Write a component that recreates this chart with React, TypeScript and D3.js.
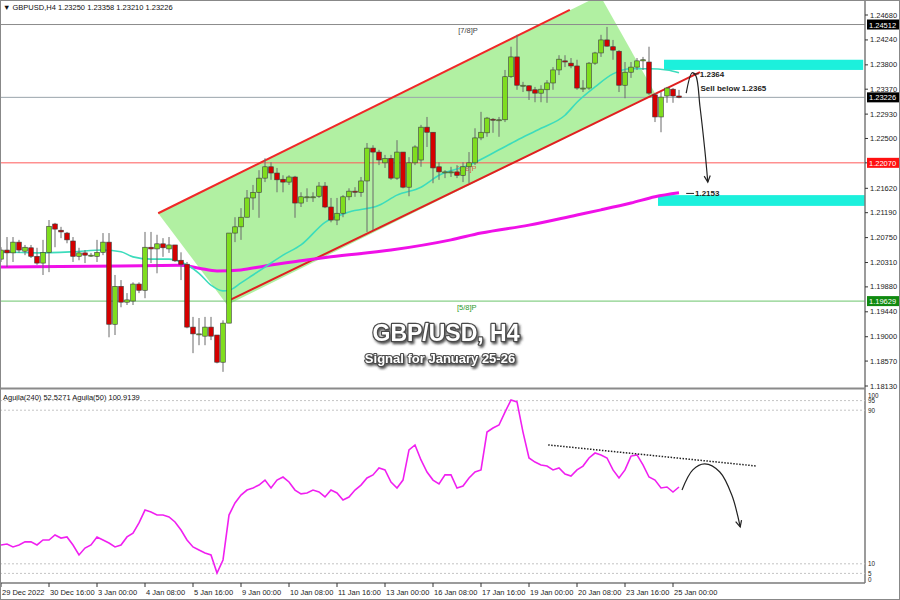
import * as d3 from "d3";

// H4 candles, 29 Dec 2022 -> 25 Jan 2023 04:00
const opens = [
  1.2037, 1.2053, 1.2048, 1.2067, 1.2051, 1.2057, 1.2042, 1.2030, 1.2049, 1.2099,
  1.2088, 1.2083, 1.2069, 1.2042, 1.2048, 1.2044, 1.2042, 1.2049, 1.2067, 1.1922,
  1.1989, 1.1961, 1.1963, 1.1993, 1.1982, 1.2058, 1.2055, 1.2064, 1.2055, 1.2062,
  1.2035, 1.2028, 1.1917, 1.1905, 1.1901, 1.1917, 1.1903, 1.1855, 1.1924, 1.2083,
  1.2094, 1.2111, 1.2145, 1.2155, 1.2180, 1.2200, 1.2189, 1.2178, 1.2173, 1.2182,
  1.2136, 1.2147, 1.2147, 1.2148, 1.2166, 1.2129, 1.2106, 1.2118, 1.2147, 1.2157,
  1.2155, 1.2175, 1.2233, 1.2226, 1.2207, 1.2215, 1.2180, 1.2226, 1.2164, 1.2207,
  1.2212, 1.2270, 1.2261, 1.2200, 1.2191, 1.2191, 1.2191, 1.2185, 1.2200, 1.2207,
  1.2251, 1.2260, 1.2284, 1.2283, 1.2283, 1.2359, 1.2394, 1.2344, 1.2343, 1.2336,
  1.2330, 1.2336, 1.2348, 1.2371, 1.2387, 1.2383, 1.2378, 1.2339, 1.2339, 1.2383,
  1.2401, 1.2424, 1.2412, 1.2404, 1.2344, 1.2367, 1.2376, 1.2387, 1.2385, 1.2327,
  1.2288, 1.2325, 1.2337, 1.2325,
];
const highs = [
  1.2058, 1.2076, 1.2076, 1.2071, 1.2062, 1.2062, 1.2057, 1.2071, 1.2106, 1.2101,
  1.2094, 1.2085, 1.2076, 1.2057, 1.2053, 1.2048, 1.2071, 1.2083, 1.2083, 1.2009,
  1.2000, 1.1977, 1.1996, 1.1996, 1.2085, 1.2085, 1.2080, 1.2074, 1.2076, 1.2062,
  1.2049, 1.2032, 1.1935, 1.1933, 1.1935, 1.1935, 1.1903, 1.1929, 1.2083, 1.2111,
  1.2127, 1.2159, 1.2168, 1.2194, 1.2215, 1.2208, 1.2198, 1.2185, 1.2185, 1.2184,
  1.2155, 1.2162, 1.2155, 1.2173, 1.2173, 1.2145, 1.2145, 1.2150, 1.2162, 1.2164,
  1.2182, 1.2242, 1.2238, 1.2230, 1.2221, 1.2221, 1.2247, 1.2226, 1.2217, 1.2238,
  1.2274, 1.2288, 1.2261, 1.2208, 1.2194, 1.2200, 1.2203, 1.2208, 1.2226, 1.2268,
  1.2297, 1.2288, 1.2286, 1.2288, 1.2371, 1.2412, 1.2433, 1.2350, 1.2344, 1.2341,
  1.2344, 1.2353, 1.2376, 1.2397, 1.2397, 1.2392, 1.2389, 1.2353, 1.2385, 1.2403,
  1.2433, 1.2447, 1.2424, 1.2406, 1.2385, 1.2385, 1.2392, 1.2394, 1.2412, 1.2330,
  1.2332, 1.2341, 1.2339, 1.23358,
];
const lows = [
  1.2032, 1.2023, 1.2032, 1.2048, 1.2044, 1.2039, 1.2027, 1.2009, 1.2014, 1.2058,
  1.2074, 1.2065, 1.2032, 1.2035, 1.2030, 1.2041, 1.2032, 1.2044, 1.1899, 1.1903,
  1.1952, 1.1956, 1.1956, 1.1977, 1.1968, 1.2030, 1.2012, 1.2041, 1.2048, 1.2032,
  1.2000, 1.1915, 1.1871, 1.1885, 1.1885, 1.1894, 1.1853, 1.1838, 1.1924, 1.2067,
  1.2071, 1.2111, 1.2124, 1.2110, 1.2173, 1.2177, 1.2155, 1.2155, 1.2168, 1.2110,
  1.2129, 1.2138, 1.2138, 1.2145, 1.2127, 1.2102, 1.2097, 1.2111, 1.2141, 1.2147,
  1.2147, 1.2085, 1.2088, 1.2203, 1.2198, 1.2177, 1.2177, 1.2162, 1.2148, 1.2203,
  1.2200, 1.2235, 1.2171, 1.2177, 1.2180, 1.2182, 1.2180, 1.2173, 1.2171, 1.2203,
  1.2247, 1.2253, 1.2260, 1.2253, 1.2279, 1.2357, 1.2336, 1.2332, 1.2318, 1.2314,
  1.2314, 1.2313, 1.2336, 1.2362, 1.2376, 1.2374, 1.2336, 1.2332, 1.2336, 1.2380,
  1.2394, 1.2412, 1.2389, 1.2332, 1.2321, 1.2357, 1.2371, 1.2371, 1.2327, 1.2279,
  1.2261, 1.2313, 1.2313, 1.23210,
];
const closes = [
  1.2053, 1.2048, 1.2067, 1.2053, 1.2058, 1.2042, 1.2030, 1.2049, 1.2095, 1.2090,
  1.2085, 1.2071, 1.2042, 1.2048, 1.2044, 1.2044, 1.2049, 1.2067, 1.1922, 1.1989,
  1.1961, 1.1965, 1.1993, 1.1982, 1.2058, 1.2055, 1.2064, 1.2057, 1.2062, 1.2034,
  1.2028, 1.1917, 1.1905, 1.1905, 1.1917, 1.1901, 1.1855, 1.1924, 1.2083, 1.2094,
  1.2111, 1.2145, 1.2155, 1.2180, 1.2200, 1.2189, 1.2177, 1.2173, 1.2182, 1.2136,
  1.2147, 1.2147, 1.2147, 1.2166, 1.2129, 1.2106, 1.2118, 1.2147, 1.2157, 1.2155,
  1.2175, 1.2233, 1.2226, 1.2212, 1.2215, 1.2180, 1.2226, 1.2164, 1.2207, 1.2235,
  1.2270, 1.2261, 1.2198, 1.2191, 1.2191, 1.2191, 1.2185, 1.2200, 1.2207, 1.2251,
  1.2261, 1.2286, 1.2283, 1.2283, 1.2359, 1.2394, 1.2344, 1.2344, 1.2334, 1.2330,
  1.2337, 1.2348, 1.2371, 1.2390, 1.2385, 1.2378, 1.2339, 1.2339, 1.2383, 1.2401,
  1.2424, 1.2413, 1.2406, 1.2344, 1.2367, 1.2376, 1.2387, 1.2389, 1.2330, 1.2288,
  1.2323, 1.2339, 1.2325, 1.23226,
];

// moving averages (bar index, price)
const maFastBars = [0, 6, 12, 17, 20, 22, 25, 28, 30, 33, 35, 37, 38, 40, 42, 44, 47, 50, 54, 58, 63, 66, 70, 73, 78, 83, 86, 90, 94, 96, 99, 102, 105, 108, 111, 113];
const maFastVals = [1.2050, 1.2048, 1.2050, 1.2053, 1.2050, 1.2041, 1.2037, 1.2037, 1.2032, 1.2012, 1.1991, 1.1981, 1.1982, 1.1995, 1.2009, 1.2023, 1.2044, 1.2062, 1.2102, 1.2120, 1.2132, 1.2150, 1.2164, 1.2185, 1.2203, 1.2230, 1.2247, 1.2268, 1.2291, 1.2314, 1.2341, 1.2364, 1.2373, 1.2373, 1.2371, 1.2366];
const maSlowBars = [0, 10, 20, 30, 33, 36, 40, 44, 50, 55, 65, 75, 80, 88, 96, 100, 105, 109, 113];
const maSlowVals = [1.2023, 1.2024, 1.2025, 1.2026, 1.2021, 1.2016, 1.2018, 1.2025, 1.2034, 1.2041, 1.2053, 1.2071, 1.2083, 1.2097, 1.2115, 1.2124, 1.2136, 1.2147, 1.2154];

// Aguila(50) oscillator, one value per bar
const aguila = [
  19.8, 20.3, 18.8, 19.8, 21.4, 21.4, 19.8, 22.4, 22.4, 25.0,
  23.4, 24.0, 19.8, 14.6, 18.2, 19.8, 24.0, 22.4, 20.8, 18.8,
  19.8, 24.0, 26.0, 31.3, 38.0, 37.0, 35.4, 35.4, 34.4, 31.8,
  27.6, 22.4, 18.8, 17.2, 15.6, 14.6, 5.2, 12.0, 35.4, 41.7,
  45.8, 48.4, 49.5, 51.0, 53.6, 49.5, 53.6, 55.2, 52.6, 48.4,
  46.4, 46.9, 48.4, 47.4, 44.8, 48.4, 46.9, 43.2, 44.8, 48.4,
  51.0, 54.7, 56.3, 59.9, 58.9, 52.6, 49.5, 53.6, 69.3, 71.9,
  64.1, 57.8, 53.6, 51.6, 56.3, 56.3, 49.5, 50.5, 54.7, 57.8,
  58.9, 78.6, 80.7, 82.3, 89.0, 95.3, 94.3, 78.6, 65.1, 63.0,
  61.5, 60.9, 58.9, 59.9, 56.8, 55.7, 58.9, 60.9, 65.1, 67.7,
  66.7, 65.1, 58.9, 54.7, 58.9, 66.1, 66.7, 61.5, 55.2, 53.6,
  49.5, 50.0, 47.4, 50.0,
];

const timeLabels = ["29 Dec 2022", "30 Dec 16:00", "3 Jan 00:00", "4 Jan 08:00", "5 Jan 16:00", "9 Jan 00:00", "10 Jan 08:00", "11 Jan 16:00", "13 Jan 00:00", "16 Jan 08:00", "17 Jan 16:00", "19 Jan 00:00", "20 Jan 08:00", "23 Jan 16:00", "25 Jan 00:00"];
const priceTicks = [1.2468, 1.2424, 1.238, 1.2337, 1.2293, 1.225, 1.2207, 1.2162, 1.2119, 1.2075, 1.2031, 1.1988, 1.1944, 1.19, 1.1857, 1.1813];
const levelPrices = [1.24512, 1.23226, 1.2207, 1.19629];
const aguilaLevels = [95, 90, 10, 5];
const aguilaLabels = [100, 95, 90, 10, 5, 0];

// channel drawn on the chart (bar, price)
const channelUpper = [[26.2, 1.2118], [94.8, 1.2477]];
const channelLower = [[38.2, 1.1965], [116.5, 1.2367]];
const channelFill = [[26.2, 1.2118], [98.2, 1.2494], [100.3, 1.2494], [109, 1.233], [37.7, 1.1956]];
const zoneSell = [110.5, 143.7, 1.2371, 1.2389];
const zoneTarget = [109.5, 144.3, 1.2131, 1.215];
const arrowMain = [[114.2, 1.233], [115.2, 1.2366], [115.8, 1.2361], [116.5, 1.2306], [117.3, 1.223], [117.8, 1.2173]];
const oscTrend = [[91.2, 71.9], [126, 60.9]];
const oscArrow = [[113.5, 48.4], [115.3, 58.9], [117.3, 62], [119.8, 57.8], [121.8, 45.8], [123.2, 29.2]];

const FONT = "'Liberation Sans', Arial, sans-serif";
const UP = "#7fdd1e";
const DOWN = "#d40000";

export default function App() {
  const W = 900, H = 600;
  const axisX = 865;
  const x = d3.scaleLinear().domain([0, 144]).range([1, 865]);
  const y = d3.scaleLinear().domain([1.1813, 1.2468]).range([386, 15]);
  const yo = d3.scaleLinear().domain([0, 100]).range([583, 391]);

  const priceLine = d3.line<number[]>().x((d) => x(d[0])).y((d) => y(d[1]));
  const oscLine = d3.line<number[]>().x((d) => x(d[0])).y((d) => yo(d[1]));
  const smooth = d3.line<number[]>().x((d) => x(d[0])).y((d) => y(d[1])).curve(d3.curveMonotoneX);
  const arrowCurve = d3.line<number[]>().x((d) => x(d[0])).y((d) => y(d[1])).curve(d3.curveCatmullRom);
  const oscArrowCurve = d3.line<number[]>().x((d) => x(d[0])).y((d) => yo(d[1])).curve(d3.curveCatmullRom);

  const fastPts = maFastBars.map((b, i) => [b, maFastVals[i]]);
  const slowPts = maSlowBars.map((b, i) => [b, maSlowVals[i]]);
  const oscPts = aguila.map((v, i) => [i, v]);

  const levelStyle = [
    { line: "#8c8c8c", bg: "#000", fg: "#fff" },
    { line: "#9aa4ac", bg: "#000", fg: "#fff" },
    { line: "#ff5a5a", bg: "#ff1010", fg: "#fff" },
    { line: "#6cc46c", bg: "#108a10", fg: "#fff" },
  ];

  const arrowHead = (pts: number[][], sy: (v: number) => number) => {
    const a = pts[pts.length - 2], b = pts[pts.length - 1];
    const x1 = x(a[0]), y1 = sy(a[1]), x2 = x(b[0]), y2 = sy(b[1]);
    const ang = Math.atan2(y2 - y1, x2 - x1);
    const L = 7, s = 0.45;
    return `M${x2 - L * Math.cos(ang - s)},${y2 - L * Math.sin(ang - s)}L${x2},${y2}L${x2 - L * Math.cos(ang + s)},${y2 - L * Math.sin(ang + s)}`;
  };

  // keep the 100/0 labels inside the panel like MT4 does
  const oscLabelY = (v: number) => (v === 100 ? 397.5 : v === 0 ? 582 : v === 5 ? 575.5 : yo(v) + 2.5);

  return (
    <svg width={W} height={H} style={{ position: "absolute", left: 0, top: 0, background: "#fff" }} fontFamily={FONT}>
      <defs>
        <clipPath id="main">
          <rect x={0} y={0} width={axisX} height={387} />
        </clipPath>
        <clipPath id="osc">
          <rect x={0} y={390} width={axisX} height={193} />
        </clipPath>
        <filter id="shadow" x="-10%" y="-30%" width="130%" height="170%">
          <feDropShadow dx="1.5" dy="2" stdDeviation="1" floodColor="#333" floodOpacity="0.8" />
        </filter>
      </defs>

      <g clipPath="url(#main)">
        <path d={priceLine(channelFill) + "Z"} fill="#a9ee98" opacity={0.9} />
        {levelPrices.map((p, i) => (
          <line key={p} x1={0} x2={axisX} y1={y(p)} y2={y(p)} stroke={levelStyle[i].line} strokeWidth={1} />
        ))}
        <text x={x(76.2)} y={y(1.2468) + 18} fontSize={7.5} fill="#444">[7/8]P</text>
        <text x={x(76)} y={y(1.2207) + 8} fontSize={7.5} fill="#e04040" opacity={0.8}>[6/8]P</text>
        <text x={x(76)} y={y(1.19629) + 9} fontSize={7.5} fill="#2a9a2a">[5/8]P</text>
        <rect x={x(zoneSell[0])} width={x(zoneSell[1]) - x(zoneSell[0])} y={y(zoneSell[3])} height={y(zoneSell[2]) - y(zoneSell[3])} fill="#1cf0dc" />
        <rect x={x(zoneTarget[0])} width={x(zoneTarget[1]) - x(zoneTarget[0])} y={y(zoneTarget[3])} height={y(zoneTarget[2]) - y(zoneTarget[3])} fill="#1cf0dc" />
        <path d={priceLine(channelUpper) ?? ""} stroke="#f02828" strokeWidth={2} fill="none" />
        <path d={priceLine(channelLower) ?? ""} stroke="#e02020" strokeWidth={2} fill="none" />
        <path d={smooth(slowPts) ?? ""} stroke="#f010e8" strokeWidth={3} fill="none" />
        <path d={smooth(fastPts) ?? ""} stroke="#3cdcbc" strokeWidth={1.6} fill="none" />

        {closes.map((c, i) => {
          const o = opens[i];
          const up = c >= o;
          const cx = x(i);
          const top = y(Math.max(o, c));
          const h = Math.max(1, y(Math.min(o, c)) - top);
          return (
            <g key={i}>
              <line x1={cx} x2={cx} y1={y(highs[i])} y2={y(lows[i])} stroke="#6a6a6a" strokeWidth={1} />
              <rect x={cx - 2.3} width={4.6} y={top} height={h} fill={up ? UP : DOWN} stroke="#3a3a3a" strokeWidth={0.6} />
            </g>
          );
        })}

        <path d={arrowCurve(arrowMain) ?? ""} stroke="#222" strokeWidth={1.2} fill="none" />
        <path d={arrowHead(arrowMain, y)} stroke="#222" strokeWidth={1.2} fill="none" />
        <line x1={x(115.3)} x2={x(116.3)} y1={y(1.2364)} y2={y(1.2364)} stroke="#222" />
        <text x={x(116.3) + 1} y={y(1.2364) + 3} fontSize={8} fontWeight="bold" fill="#222">1.2364</text>
        <text x={x(116.5) + 0.5} y={y(1.2364) + 17} fontSize={8} fontWeight="bold" fill="#222">Sell below 1.2365</text>
        <line x1={x(114.2)} x2={x(115.5)} y1={y(1.2153)} y2={y(1.2153)} stroke="#222" />
        <text x={x(115.5) + 1} y={y(1.2153) + 3} fontSize={8} fontWeight="bold" fill="#222">1.2153</text>

        <g filter="url(#shadow)" textAnchor="middle" fontWeight="bold" fill="#fff" stroke="#4a4a4a" strokeLinejoin="round" style={{ paintOrder: "stroke" }}>
          <text x={446} y={341} fontSize={23} strokeWidth={2.4}>GBP/USD, H4</text>
          <text x={440} y={363} fontSize={13} strokeWidth={2.2}>Signal for January 25-26</text>
        </g>
      </g>

      {/* header */}
      <text x={3} y={10} fontSize={7.5} fill="#111">▼ GBPUSD,H4  1.23250 1.23358 1.23210 1.23226</text>

      {/* price axis */}
      <line x1={axisX} x2={axisX} y1={0} y2={583} stroke="#7a7a7a" strokeWidth={1.5} />
      {priceTicks.map((p) => (
        <g key={p}>
          <line x1={axisX} x2={axisX + 3} y1={y(p)} y2={y(p)} stroke="#333" />
          <text x={axisX + 5} y={y(p) + 2.5} fontSize={7.5} fill="#222">{p.toFixed(5)}</text>
        </g>
      ))}
      {levelPrices.map((p, i) => (
        <g key={"lb" + p}>
          <rect x={axisX + 2} y={y(p) - 5} width={33} height={10} fill={levelStyle[i].bg} />
          <text x={axisX + 4} y={y(p) + 3} fontSize={7.5} fill={levelStyle[i].fg}>{p.toFixed(5)}</text>
        </g>
      ))}

      {/* separator */}
      <line x1={0} x2={axisX} y1={388.5} y2={388.5} stroke="#8a8a8a" strokeWidth={2} />

      {/* oscillator */}
      <text x={3} y={400} fontSize={7.5} fill="#111">Aguila(240) 52.5271  Aguila(50) 100.9139</text>
      {aguilaLevels.map((v) => (
        <line key={v} x1={0} x2={axisX} y1={yo(v)} y2={yo(v)} stroke="#c4c4c4" strokeDasharray="2,2" />
      ))}
      {aguilaLabels.map((v) => (
        <text key={"al" + v} x={axisX + 3} y={oscLabelY(v)} fontSize={6.3} fill="#222">{v}</text>
      ))}
      <g clipPath="url(#osc)">
        <path d={oscLine(oscPts) ?? ""} stroke="#f020f0" strokeWidth={1.6} fill="none" />
        <path d={oscLine(oscTrend) ?? ""} stroke="#222" strokeWidth={1.5} strokeDasharray="1.5,1.5" fill="none" />
        <path d={oscArrowCurve(oscArrow) ?? ""} stroke="#222" strokeWidth={1.2} fill="none" />
        <path d={arrowHead(oscArrow, yo)} stroke="#222" strokeWidth={1.2} fill="none" />
      </g>
      <line x1={0} x2={axisX} y1={583} y2={583} stroke="#7a7a7a" strokeWidth={1.5} />

      {/* time axis */}
      {timeLabels.map((t, k) => (
        <g key={t}>
          <line x1={x(k * 8)} x2={x(k * 8)} y1={583} y2={587} stroke="#333" />
          <text x={x(k * 8) + 1} y={595} fontSize={7.5} fill="#222">{t}</text>
        </g>
      ))}
      <rect x={0.5} y={0.5} width={W - 1} height={H - 1} fill="none" stroke="#888" />
    </svg>
  );
}
